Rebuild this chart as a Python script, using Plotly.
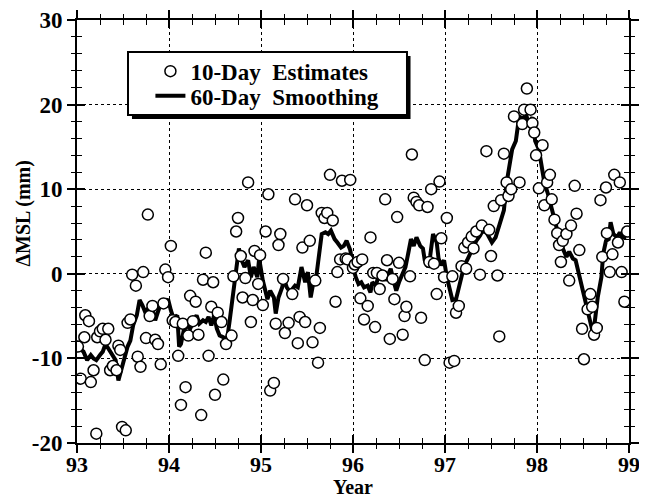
import plotly.graph_objects as go

# ---- 10-day estimates ----
est_year = [93.01, 93.04, 93.08, 93.09, 93.13, 93.15, 93.18, 93.21, 93.22, 93.25, 93.28, 93.31, 93.34,
            93.36, 93.39, 93.43, 93.45, 93.47, 93.49, 93.53, 93.55, 93.58, 93.60, 93.64, 93.66, 93.69,
            93.72, 93.75, 93.77, 93.79, 93.82, 93.85, 93.88, 93.91, 93.94, 93.96, 93.99,
            94.02, 94.04, 94.07, 94.10, 94.13, 94.15, 94.18, 94.21, 94.23, 94.26, 94.29, 94.32, 94.35,
            94.37, 94.40, 94.43, 94.46, 94.48, 94.50, 94.53, 94.57, 94.59, 94.62, 94.68, 94.70, 94.73,
            94.75, 94.78, 94.80, 94.83, 94.86, 94.89, 94.91, 94.93, 94.97, 94.99,
            95.02, 95.05, 95.08, 95.10, 95.14, 95.16, 95.19, 95.21, 95.24, 95.26, 95.30, 95.34, 95.37,
            95.40, 95.42, 95.45, 95.48, 95.50, 95.53, 95.56, 95.59, 95.62, 95.64, 95.66, 95.69, 95.72,
            95.75, 95.78, 95.81, 95.83, 95.86, 95.88, 95.92, 95.94, 95.97, 96.00,
            96.02, 96.05, 96.08, 96.10, 96.12, 96.16, 96.19, 96.22, 96.24, 96.26, 96.29, 96.32, 96.35,
            96.37, 96.40, 96.43, 96.45, 96.48, 96.50, 96.54, 96.56, 96.58, 96.62, 96.64, 96.66, 96.69,
            96.72, 96.74, 96.78, 96.81, 96.83, 96.85, 96.88, 96.91, 96.94, 96.96, 96.99,
            97.02, 97.05, 97.08, 97.10, 97.12, 97.15, 97.18, 97.21, 97.23, 97.25, 97.29, 97.31, 97.34,
            97.38, 97.40, 97.45, 97.48, 97.50, 97.53, 97.57, 97.59, 97.61, 97.64, 97.67, 97.69, 97.72,
            97.75, 97.81, 97.84, 97.86, 97.89, 97.93, 97.95, 97.97, 97.99,
            98.02, 98.06, 98.08, 98.11, 98.14, 98.16, 98.19, 98.22, 98.24, 98.26, 98.28, 98.32, 98.35,
            98.37, 98.41, 98.43, 98.46, 98.49, 98.51, 98.55, 98.58, 98.60, 98.62, 98.65, 98.69, 98.71,
            98.75, 98.76, 98.79, 98.82, 98.84, 98.88, 98.90, 98.92, 98.95, 98.98]
est_msl = [-8.6, -12.4, -7.5, -4.9, -5.6, -12.8, -11.4, -18.9, -7.5, -6.8, -6.5, -7.8, -6.5,
           -11.4, -10.9, -11.4, -8.5, -9.0, -18.1, -18.5, -5.8, -5.4, -0.1, -1.4, -9.8, -11.0,
           0.2, -7.6, 7.0, -5.0, -3.8, -7.8, -8.3, -10.7, -3.5, 0.5, -0.4,
           3.3, -5.5, -5.7, -9.7, -15.5, -5.9, -13.4, -7.3, -2.6, -5.6, -3.3, -7.2, -16.7,
           -0.7, 2.5, -9.7, -3.9, -1.0, -14.3, -4.6, -5.7, -12.5, -8.3, -7.3, -0.3, 5.0,
           6.6, 2.1, -2.8, -0.5, 10.8, -5.7, -3.1, 2.7, -1.2, 2.2,
           -3.7, 5.0, 9.4, -13.8, -12.9, -5.9, 3.4, 4.7, -0.6, -7.0, -5.8, -2.4, 8.8,
           -8.2, -5.1, 3.1, -5.7, 8.1, 3.9, -8.1, -0.8, -10.5, -6.4, 7.2, 6.6, 7.2,
           11.7, 6.3, -3.3, 0.2, 1.7, 11.0, 1.8, 1.7, 11.1, 0.7,
           1.1, 1.4, -2.9, 1.7, -5.4, -3.8, 4.3, 0.1, -6.3, 0.1, -1.8, -0.2, 8.8,
           1.6, -7.7, -0.6, -3.0, 6.7, 1.3, -7.2, -5.0, -3.9, -0.3, 14.1, 9.0, 8.5,
           8.1, -5.2, -10.2, 7.9, 1.4, 10.0, 1.2, -2.4, 10.9, 4.2, -0.4,
           6.6, -10.5, -0.3, -10.3, -4.6, -3.8, 0.9, 3.1, 0.6, 3.7, 4.4, 3.0, 5.0,
           -0.1, 5.7, 14.5, 5.2, 2.1, 8.0, -0.2, -7.4, 8.7, 14.2, 10.8, 9.2, 10.0,
           18.6, 10.8, 17.7, 19.4, 21.9, 19.4, 17.8, 16.7, 14.0,
           10.1, 15.2, 8.1, 10.8, 11.7, 8.8, 6.4, 4.8, 3.4, 1.4, 3.9, 4.7, -0.8,
           5.7, 10.4, 7.1, 2.8, -6.5, -10.1, -4.2, -2.4, -3.9, -7.2, -6.4, 8.7, 2.0,
           10.2, 4.8, 0.2, 2.3, 11.7, 3.7, 10.8, 0.2, -3.3, 5.0]

# ---- 60-day smoothing ----
smo_year = [93.00, 93.07, 93.11, 93.15, 93.18, 93.21, 93.25, 93.28, 93.31, 93.34, 93.38, 93.42, 93.45,
            93.48, 93.52, 93.55, 93.58, 93.61, 93.65, 93.68, 93.71, 93.74, 93.77, 93.79, 93.82, 93.85,
            93.88, 93.92, 93.95, 93.99,
            94.02, 94.05, 94.09, 94.11, 94.13, 94.16, 94.20, 94.23, 94.27, 94.30, 94.33, 94.37, 94.40,
            94.43, 94.46, 94.49, 94.52, 94.55, 94.59, 94.63, 94.66, 94.69, 94.72, 94.76, 94.79, 94.82,
            94.86, 94.89, 94.92, 94.96, 94.98,
            95.02, 95.05, 95.07, 95.10, 95.14, 95.16, 95.19, 95.23, 95.25, 95.28, 95.32, 95.34, 95.37,
            95.40, 95.44, 95.48, 95.51, 95.54, 95.57, 95.60, 95.63, 95.66, 95.70, 95.73, 95.76, 95.80,
            95.83, 95.87, 95.90, 95.93, 95.97,
            96.00, 96.03, 96.06, 96.09, 96.12, 96.16, 96.19, 96.21, 96.25, 96.28, 96.31, 96.35, 96.38,
            96.41, 96.44, 96.47, 96.50, 96.54, 96.57, 96.60, 96.63, 96.66, 96.69, 96.73, 96.76, 96.78,
            96.82, 96.84, 96.87, 96.91, 96.93, 96.96, 96.99,
            97.02, 97.05, 97.08, 97.12, 97.14, 97.17, 97.21, 97.24, 97.28, 97.31, 97.34, 97.38, 97.41,
            97.45, 97.48, 97.51, 97.55, 97.58, 97.61, 97.64, 97.67, 97.70, 97.73, 97.77, 97.80, 97.82,
            97.85, 97.88, 97.91, 97.95, 97.98,
            98.02, 98.05, 98.08, 98.12, 98.15, 98.18, 98.22, 98.25, 98.28, 98.32, 98.35, 98.39, 98.42,
            98.45, 98.49, 98.52, 98.55, 98.58, 98.61, 98.63, 98.66, 98.70, 98.72, 98.75, 98.78, 98.80,
            98.83, 98.87, 98.90, 98.93, 98.97]
smo_msl = [-8.6, -9.2, -10.2, -9.6, -10.0, -10.2, -9.6, -9.2, -8.3, -8.8, -9.4, -10.2, -12.6,
           -11.4, -9.6, -8.6, -7.9, -6.1, -4.9, -3.1, -3.7, -4.5, -4.1, -4.9, -4.1, -5.5,
           -4.5, -3.3, -3.5, -3.0,
           -4.3, -5.3, -4.9, -8.6, -8.3, -6.7, -6.1, -6.5, -5.5, -4.9, -5.9, -5.5, -5.7,
           -5.1, -6.1, -4.9, -6.5, -7.3, -7.5, -7.9, -5.5, -2.4, -0.4, 3.0, 1.6, 0.8,
           1.6, -0.4, 0.8, -0.4, 1.8,
           -0.8, -2.0, -3.0, -2.0, -2.8, -4.7, -2.8, -1.6, -0.6, -1.6, -2.2, -1.8, -1.4,
           -1.6, 0.8, -1.0, 0.2, -2.8, -1.0, -0.4, 1.8, 4.7, 4.9, 4.7, 5.1, 4.1,
           3.7, 3.1, 3.3, 3.9, 2.8,
           0.8, -0.4, -1.2, -1.0, -1.6, -1.4, -2.2, -1.0, -1.4, 0.0, 0.4, -0.8, 0.0,
           0.6, -0.8, -2.0, -1.0, 0.0, 0.8, 2.4, 4.1, 3.3, 4.3, 3.3, 3.0, 1.6,
           0.8, 2.2, 4.7, 3.7, 1.8, 1.0, 1.6,
           -0.4, -2.0, -3.1, -3.0, -2.2, -0.8, 1.0, 1.6, 2.6, 3.3, 3.9, 4.5, 5.1,
           4.9, 4.3, 3.7, 4.3, 5.3, 6.3, 7.5, 10.8, 13.0, 14.7, 15.7, 18.1, 18.5,
           18.3, 18.9, 17.7, 18.5, 15.7,
           14.7, 13.0, 10.8, 9.4, 8.1, 6.7, 5.3, 3.9, 3.0, 2.0, 2.6, 1.8, 1.6,
           0.2, -1.6, -3.1, -4.3, -5.9, -7.1, -5.5, -2.8, -0.4, 2.4, 3.9, 4.1, 6.1,
           4.7, 4.3, 4.9, 4.3, 4.3]

x_ticks = [93, 94, 95, 96, 97, 98, 99]
y_ticks = [-20, -10, 0, 10, 20, 30]

FONT = "Liberation Serif"

fig = go.Figure()
fig.add_trace(go.Scatter(
    x=smo_year, y=smo_msl, mode="lines", name="60-Day\u00a0\u00a0Smoothing",
    line=dict(color="black", width=4), legend="legend2"))
fig.add_trace(go.Scatter(
    x=est_year, y=est_msl, mode="markers", name="10-Day\u00a0\u00a0Estimates",
    marker=dict(symbol="circle", size=11, color="white", line=dict(color="black", width=1.5)),
    legend="legend"))
# empty trace to activate the overlay axes (inside ticks)
fig.add_trace(go.Scatter(x=[None], y=[None], xaxis="x2", yaxis="y2", showlegend=False,
                         hoverinfo="skip"))

tickfont_y = dict(family=FONT, size=23, color="black", weight="bold")
tickfont_x = dict(family=FONT, size=22, color="black", weight="bold")
legfont = dict(family=FONT, size=23, color="black", weight="bold")

common_x = dict(range=[93, 99], tickvals=x_ticks, ticktext=[str(v) for v in x_ticks], automargin=False)
common_y = dict(range=[-20, 30], tickvals=y_ticks, ticktext=[str(v) for v in y_ticks], automargin=False)

# the page body adds an 8px offset, so the figure is sized 8px smaller
fig.update_layout(
    width=639, height=491,
    margin=dict(l=69, r=18, t=12, b=56, autoexpand=False),
    paper_bgcolor="white", plot_bgcolor="white",
    showlegend=True,
    xaxis=dict(**common_x, showgrid=True, gridcolor="black", griddash="dot", gridwidth=1,
               zeroline=False, showline=True, linecolor="black", linewidth=2, mirror="ticks",
               ticks="outside", ticklen=8, tickwidth=1.5, tickcolor="black",
               minor=dict(ticks="outside", dtick=0.25, ticklen=4, tickwidth=1.2, tickcolor="black",
                          showgrid=False),
               tickfont=tickfont_x, ticklabelstandoff=-7),
    yaxis=dict(**common_y, showgrid=True, gridcolor="black", griddash="dot", gridwidth=1,
               zeroline=False, showline=True, linecolor="black", linewidth=2, mirror="ticks",
               ticks="outside", ticklen=8, tickwidth=1.5, tickcolor="black",
               minor=dict(ticks="outside", dtick=2, ticklen=4, tickwidth=1.2, tickcolor="black",
                          showgrid=False),
               tickfont=tickfont_y),
    xaxis2=dict(**common_x, overlaying="x", anchor="y2", side="bottom", showgrid=False,
                zeroline=False, showline=True, linecolor="black", linewidth=2, mirror="ticks",
                ticks="inside", ticklen=8, tickwidth=1.5, tickcolor="black",
                minor=dict(ticks="inside", dtick=0.25, ticklen=5, tickwidth=1.2, tickcolor="black",
                           showgrid=False),
                showticklabels=False),
    yaxis2=dict(**common_y, overlaying="y", anchor="x2", side="left", showgrid=False,
                zeroline=False, showline=True, linecolor="black", linewidth=2, mirror="ticks",
                ticks="inside", ticklen=8, tickwidth=1.5, tickcolor="black",
                minor=dict(ticks="inside", dtick=2, ticklen=5, tickwidth=1.2, tickcolor="black",
                           showgrid=False),
                showticklabels=False),
    legend=dict(x=0.133, y=0.879, xanchor="left", yanchor="middle", bgcolor="rgba(0,0,0,0)",
                borderwidth=0, font=legfont),
    legend2=dict(x=0.133, y=0.821, xanchor="left", yanchor="middle", bgcolor="rgba(0,0,0,0)",
                 borderwidth=0, font=legfont),
    shapes=[
        dict(type="rect", xref="paper", yref="paper", x0=0.0996, x1=0.6042, y0=0.766, y1=0.915,
             fillcolor="black", line=dict(width=0), layer="above"),
        dict(type="rect", xref="paper", yref="paper", x0=0.0924, x1=0.5978, y0=0.7754, y1=0.9243,
             fillcolor="white", line=dict(color="black", width=2), layer="above"),
    ],
    annotations=[
        dict(text="ΔMSL (mm)", xref="paper", yref="paper", x=-0.0978, y=0.5426,
             textangle=-90, showarrow=False, xanchor="center", yanchor="middle",
             font=dict(family=FONT, size=20, color="black", weight="bold")),
        dict(text="Year", xref="paper", yref="paper", x=0.5, y=-0.1324,
             showarrow=False, xanchor="center", yanchor="bottom", borderpad=0,
             font=dict(family=FONT, size=20, color="black", weight="bold")),
    ],
)

fig.write_html("out.html")
